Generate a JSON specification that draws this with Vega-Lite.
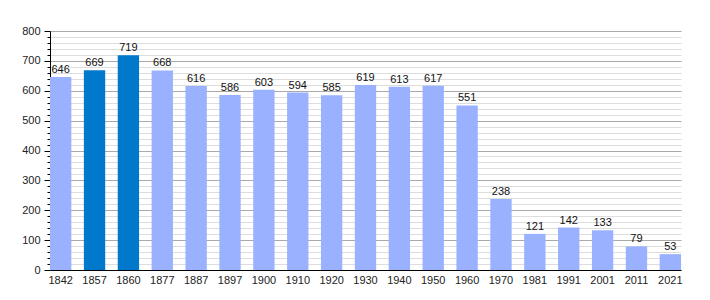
{
  "$schema": "https://vega.github.io/schema/vega-lite/v6.json",
  "width": 631,
  "height": 239,
  "autosize": {"type": "none"},
  "padding": {"left": 50, "top": 31, "right": 29, "bottom": 30},
  "config": {
    "view": {"stroke": null},
    "font": "Liberation Sans",
    "axis": {"labelFont": "Liberation Sans", "labelFontSize": 11, "labelColor": "#222222"}
  },
  "data": {
    "values": [
      {"year": "1842", "pop": 646, "hl": false},
      {"year": "1857", "pop": 669, "hl": true},
      {"year": "1860", "pop": 719, "hl": true},
      {"year": "1877", "pop": 668, "hl": false},
      {"year": "1887", "pop": 616, "hl": false},
      {"year": "1897", "pop": 586, "hl": false},
      {"year": "1900", "pop": 603, "hl": false},
      {"year": "1910", "pop": 594, "hl": false},
      {"year": "1920", "pop": 585, "hl": false},
      {"year": "1930", "pop": 619, "hl": false},
      {"year": "1940", "pop": 613, "hl": false},
      {"year": "1950", "pop": 617, "hl": false},
      {"year": "1960", "pop": 551, "hl": false},
      {"year": "1970", "pop": 238, "hl": false},
      {"year": "1981", "pop": 121, "hl": false},
      {"year": "1991", "pop": 142, "hl": false},
      {"year": "2001", "pop": 133, "hl": false},
      {"year": "2011", "pop": 79, "hl": false},
      {"year": "2021", "pop": 53, "hl": false}
    ]
  },
  "encoding": {
    "x": {
      "field": "year", "type": "ordinal",
      "scale": {"paddingInner": 0.37, "paddingOuter": 0},
      "axis": {"title": null, "labelAngle": 0, "ticks": false, "domainColor": "#000000", "labelPadding": 4, "domainWidth": 1}
    },
    "y": {
      "field": "pop", "type": "quantitative",
      "scale": {"domain": [0, 800], "nice": false},
      "axis": {
        "title": null,
        "values": [0,20,40,60,80,100,120,140,160,180,200,220,240,260,280,300,320,340,360,380,400,420,440,460,480,500,520,540,560,580,600,620,640,660,680,700,720,740,760,780,800],
        "labelExpr": "datum.value % 100 === 0 ? datum.label : ''",
        "grid": true,
        "gridColor": {"condition": {"test": "datum.value % 100 === 0", "value": "#aaaaaa"}, "value": "#dddddd"},
        "tickSize": {"condition": {"test": "datum.value % 100 === 0", "value": 6}, "value": 3},
        "tickColor": "#000000", "domainColor": "#000000",
        "labelPadding": 4, "labelOverlap": false
      }
    }
  },
  "layer": [
    {
      "mark": {"type": "bar"},
      "encoding": {
        "color": {
          "field": "hl", "type": "nominal",
          "scale": {"domain": [false, true], "range": ["#99b1ff", "#0078cc"]},
          "legend": null
        }
      }
    },
    {
      "mark": {"type": "text", "dy": -7, "fontSize": 11, "color": "#111111", "font": "Liberation Sans"},
      "encoding": {
        "text": {"field": "pop", "type": "quantitative"}
      }
    }
  ]
}
